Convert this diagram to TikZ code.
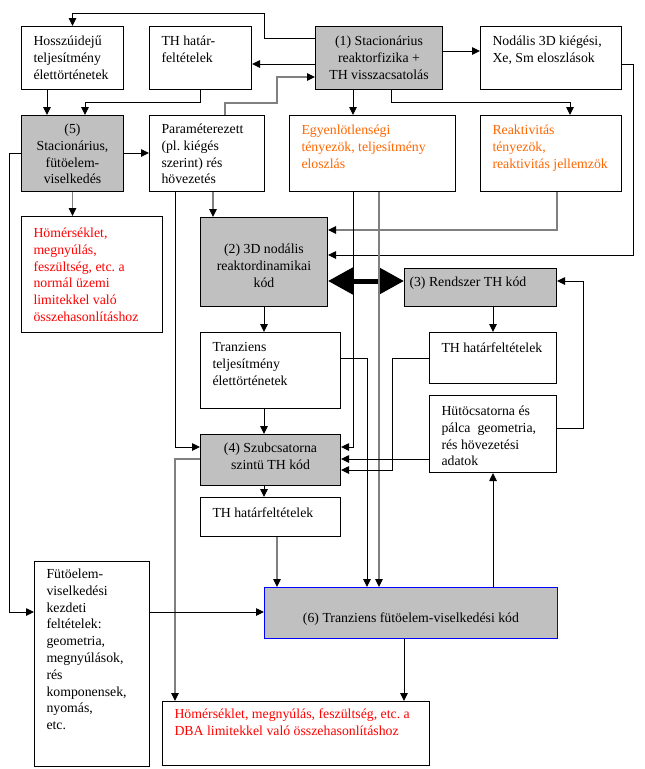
\documentclass[tikz,border=0pt]{standalone}
\usepackage{fontspec}
\setmainfont{Liberation Serif}
\usepackage{xcolor}
\usetikzlibrary{arrows.meta}
\definecolor{boxgrey}{HTML}{C0C0C0}
\definecolor{linegrey}{HTML}{808080}
\definecolor{txtorange}{HTML}{FF6600}
\tikzset{
  doboz/.style={draw, line width=1pt, rectangle, anchor=north west, inner xsep=12pt, inner ysep=0pt,
    align=flush left, text height=19pt, font=\fontsize{13.8}{16.8}\selectfont\frenchspacing},
  szurke/.style={doboz, fill=boxgrey, inner xsep=4pt, align=flush center},
  nyil/.style={line width=0.9pt, -{Triangle[length=8pt,width=7.5pt]}},
  gnyil/.style={line width=1.1pt, draw=linegrey, -{Triangle[length=8pt,width=7.5pt,color=black]}}
}
\begin{document}
\begin{tikzpicture}[x=1pt,y=-1pt]
		\useasboundingbox (0,0) rectangle (645,769);
		% dobozok
		\node[doboz, text width=78pt, text depth=44pt] (hossz) at (21,26) {Hosszúidejű\\teljesítmény\\élettörténetek};
		\node[doboz, text width=78pt, text depth=44pt] (thA) at (149,26) {TH határ-\\feltételek};
		\node[szurke, text width=119pt, text depth=44pt] (stac1) at (315,26) {(1) Stacionárius\\reaktorfizika +\\TH visszacsatolás};
		\node[doboz, text width=117pt, text depth=44pt] (nodalis) at (480,26) {Nodális 3D kiégési,\\Xe, Sm eloszlások};
		\node[szurke, text width=94pt, text height=18pt, text depth=58pt] (stac5) at (21,115) {(5)\\Stacionárius,\\fütöelem-\\viselkedés};
		\node[doboz, text width=91pt, text height=18pt, text depth=58pt] (param) at (149,115) {Paraméterezett\\(pl. kiégés\\szerint) rés\\hövezetés};
		\node[doboz, text=txtorange, text width=142pt, text depth=57pt] (egyen) at (289,115) {Egyenlötlenségi\\tényezök, teljesítmény\\eloszlás};
		\node[doboz, text=txtorange, text width=117pt, text depth=57pt] (reakt) at (480,115) {Reaktivitás\\tényezök,\\reaktivitás jellemzök};
		\node[doboz, text=red, text width=117pt, text height=21pt, text depth=95pt] (homer1) at (21,216) {Hömérséklet,\\megnyúlás,\\feszültség, etc. a\\normál üzemi\\limitekkel való\\összehasonlításhoz};
		\node[szurke, text width=119pt, text height=36pt, text depth=53pt] (nodal2) at (200,217) {(2) 3D nodális\\reaktordinamikai\\kód};
		\node[szurke, align=flush left, inner xsep=5pt, text width=142pt, text height=18pt, text depth=20pt] (rendszer) at (404,268) {(3) Rendszer TH kód};
		\node[doboz, text width=116pt, text depth=57pt] (tranz) at (200,332) {Tranziens\\teljesítmény\\élettörténetek};
		\node[doboz, text width=103pt, text height=20pt, text depth=31pt] (thB) at (429,332) {TH határfeltételek};
		\node[doboz, text width=103pt, text height=20pt, text depth=57pt] (hutocs) at (429,395) {Hütöcsatorna és\\pálca\ \ geometria,\\rés hövezetési\\adatok};
		\node[szurke, text width=132pt, text height=18pt, text depth=33pt] (szub) at (200,434) {(4) Szubcsatorna\\szintü TH kód};
		\node[doboz, text width=116pt, text height=20pt, text depth=19pt] (thC) at (200,497) {TH határfeltételek};
		\node[doboz, text width=91pt, text height=17pt, text depth=188pt] (futo) at (34,561) {Fütöelem-\\viselkedési\\kezdeti\\feltételek:\\geometria,\\megnyúlások,\\rés\\komponensek,\\nyomás,\\etc.};
		\node[szurke, draw=blue, text width=285pt, text height=35pt, text depth=16pt] (tranz6) at (264,587) {(6) Tranziens fütöelem-viselkedési kód};
		\node[doboz, text=red, text width=243pt, text height=17pt, text depth=47pt] (homer2) at (162,701) {Hömérséklet, megnyúlás, feszültség, etc. a\\DBA limitekkel való összehasonlításhoz};
		% vastag kettos nyil
		\draw[line width=5pt, {Triangle[length=25pt,width=26pt]}-{Triangle[length=25pt,width=26pt]}] (nodal2.east |- 0,281) -- (rendszer.west |- 0,281);
		% nyilak
		\draw[nyil] (stac1.west |- 0,38) -| (264,13) -| (hossz.north);
		\draw[nyil] (stac1.west |- 0,64) -- (thA.east |- 0,64);
		\draw[gnyil] (param.north -| 225,0) |- (277,103) |- (stac1.west |- 0,77);
		\draw[nyil] (stac1.east |- 0,51) -- (nodalis.west |- 0,51);
		\draw[nyil] (stac1.south -| 353,0) -- (egyen.north -| 353,0);
		\draw[nyil] (stac1.south -| 391,0) |- (570,102) -- (reakt.north -| 570,0);
		\draw[nyil] (hossz.south -| 47,0) -- (stac5.north -| 47,0);
		\draw[nyil] (thA.south -| 200,0) |- (85,102) -- (stac5.north -| 85,0);
		\draw[nyil] (stac5.east |- 0,153) -- (param.west |- 0,153);
		\draw[gnyil] (stac5.south) -- (stac5.south |- homer1.north);
		\draw[nyil] (stac5.west |- 0,153) -- (9,153) |- (futo.west |- 0,612);
		\draw[nyil] (param.south -| 175,0) |- (szub.west |- 0,447);
		\draw[gnyil] (param.south -| 213,0) -- (nodal2.north -| 213,0);
		\draw[gnyil] (reakt.south -| 557,0) |- (nodal2.east |- 0,230);
		\draw[nyil] (nodalis.east |- 0,64) -| (633,255) -- (nodal2.east |- 0,255);
		\draw[nyil] (egyen.south -| 353,0) |- (szub.east |- 0,447);
		\draw[nyil] (tranz.east |- 0,358) -| (tranz6.north -| 367,0);
		\draw[gnyil] (egyen.south -| 379,0) -- (tranz6.north -| 379,0);
		\draw[nyil] (thB.west |- 0,358) -| (392,470) -- (szub.east |- 0,470);
		\draw[nyil] (hutocs.west |- 0,459) -- (szub.east |- 0,459);
		\draw[nyil] (rendszer.south -| 493,0) -- (thB.north -| 493,0);
		\draw[nyil] (hutocs.east |- 0,428) -| (583,281) -- (rendszer.east |- 0,281);
		\draw[nyil] (nodal2.south -| 264,0) -- (tranz.north -| 264,0);
		\draw[nyil] (tranz.south -| 264,0) -- (szub.north -| 264,0);
		\draw[nyil] (szub.south -| 264,0) -- (thC.north -| 264,0);
		\draw[gnyil] (thC.south -| 277,0) -- (tranz6.north -| 277,0);
		\draw[gnyil] (szub.west |- 0,459) -| (homer2.north -| 175,0);
		\draw[nyil] (futo.east |- 0,612) -- (tranz6.west |- 0,612);
		\draw[nyil] (tranz6.north -| 493,0) -- (hutocs.south -| 493,0);
		\draw[nyil] (tranz6.south -| 404,0) -- (homer2.north -| 404,0);
\end{tikzpicture}
\end{document}
